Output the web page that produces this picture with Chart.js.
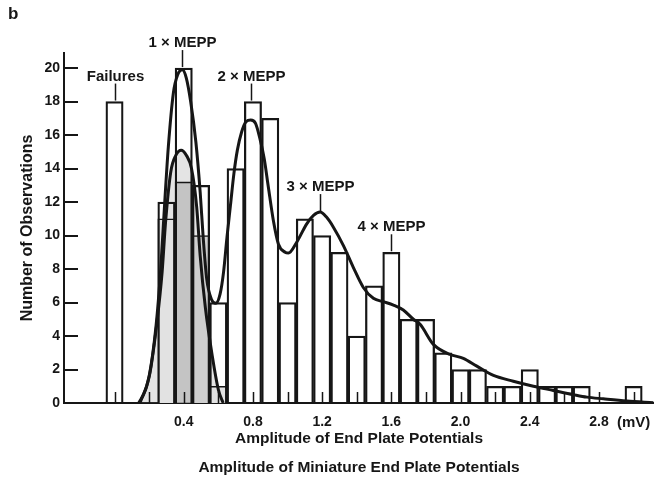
<!DOCTYPE html>
<html>
<head>
<meta charset="utf-8">
<title>Amplitude of End Plate Potentials</title>
<script src="https://cdn.jsdelivr.net/npm/chart.js@4.4.1/dist/chart.umd.min.js"></script>
<style>
  body { margin: 0; background: #fff; }
  #wrap { width: 654px; height: 480px; position: relative; }
</style>
</head>
<body>
<div id="wrap"><canvas id="chart"></canvas></div>
<script>
// Histogram of end plate potential amplitudes, 0.1 mV bins (bin centres in mV)
const binCenters = [0.0, 0.1, 0.2, 0.3, 0.4, 0.5, 0.6, 0.7, 0.8, 0.9, 1.0,
                    1.1, 1.2, 1.3, 1.4, 1.5, 1.6, 1.7, 1.8, 1.9, 2.0,
                    2.1, 2.2, 2.3, 2.4, 2.5, 2.6, 2.7, 2.8, 2.9, 3.0];
const eppCounts = [18, 0, 0, 12, 20, 13, 6, 14, 18, 17, 6,
                   11, 10, 9, 4, 7, 9, 5, 5, 3, 2,
                   2, 1, 1, 2, 1, 1, 1, 0, 0, 1];

// Spontaneous miniature potentials (shaded bars, scaled)
const meppBins = [0.3, 0.4, 0.5, 0.6];
const meppCounts = [11, 13.2, 10, 1];

// Curve fitted to the MEPP amplitudes (shaded)
const meppCurveX = [0.14, 0.18, 0.205, 0.245, 0.275, 0.295, 0.325, 0.355, 0.385,
                    0.415, 0.445, 0.475, 0.495, 0.525, 0.565, 0.6, 0.628];
const meppCurveY = [0, 0.8, 1.8, 4.8, 7.8, 10.8, 13.8, 14.8, 15.1,
                    14.8, 14.0, 11.7, 8.8, 5.7, 2.8, 0.8, 0];

// Predicted distribution of end plate potentials
const eppCurveX = [0.147, 0.2, 0.24, 0.267, 0.292, 0.311, 0.34, 0.365, 0.392, 0.415,
                   0.44, 0.47, 0.495, 0.513, 0.533, 0.56, 0.585, 0.61, 0.63, 0.65,
                   0.67, 0.69, 0.71, 0.735, 0.76, 0.787, 0.815, 0.84, 0.865, 0.889,
                   0.918, 0.947, 0.986, 1.005, 1.053, 1.111, 1.15, 1.188, 1.225, 1.265,
                   1.323, 1.38, 1.438, 1.496, 1.554, 1.612, 1.669, 1.727, 1.766, 1.843,
                   1.939, 2.016, 2.094, 2.19, 2.305, 2.421, 2.536, 2.652, 2.73, 2.825,
                   2.961, 3.114];
const eppCurveY = [0, 1.6, 4.6, 8.0, 12.3, 15.3, 18.5, 19.6, 19.9, 19.4,
                   18.0, 15.6, 12.6, 9.8, 7.4, 6.2, 5.95, 6.5, 7.8, 9.9,
                   11.8, 13.7, 15.1, 16.2, 16.8, 16.9, 16.7, 15.8, 14.6, 12.9,
                   10.9, 9.5, 9.0, 8.95, 9.6, 10.7, 11.2, 11.4, 11.1, 10.5,
                   9.4, 8.1, 6.9, 6.25, 6.05, 5.85, 5.55, 5.0, 4.7, 3.5,
                   2.9, 2.67, 2.2, 1.65, 1.3, 1.0, 0.75, 0.5, 0.35, 0.25,
                   0.12, 0.02];

// Axis ticks
const xTickValues = [0, 0.2, 0.4, 0.6, 0.8, 1.0, 1.2, 1.4, 1.6, 1.8, 2.0, 2.2, 2.4, 2.6, 2.8, 3.0];
const xLabelValues = [0.4, 0.8, 1.2, 1.6, 2.0, 2.4, 2.8];
const yTickValues = [0, 2, 4, 6, 8, 10, 12, 14, 16, 18, 20];

// Callouts above the peaks
const calloutX = [0.0, 0.39, 0.79, 1.19, 1.6];
const calloutY = [18, 20, 18, 11.4, 9];
const calloutText = ['Failures', '1 \u00d7 MEPP', '2 \u00d7 MEPP', '3 \u00d7 MEPP', '4 \u00d7 MEPP'];

const xMin = -0.292;
const xMax = 3.118;

const ink = '#161616';
const FONT = "'Liberation Sans', Arial, sans-serif";
Chart.defaults.font.family = FONT;
Chart.defaults.color = ink;

function toPoints(xs, ys) {
    return xs.map((x, i) => ({ x: x, y: ys[i] }));
}

// Inward tick marks, callouts, unit and panel letter
const overlay = {
    id: 'overlay',
    afterDatasetsDraw(chart) {
        const { ctx, chartArea: area, scales: { x, y } } = chart;
        ctx.save();
        ctx.strokeStyle = ink;
        ctx.fillStyle = ink;

        ctx.lineWidth = 2;
        ctx.beginPath();
        yTickValues.forEach(v => {
            const py = Math.round(y.getPixelForValue(v));
            ctx.moveTo(area.left, py);
            ctx.lineTo(area.left + 14, py);
        });
        ctx.stroke();

        ctx.lineWidth = 1.5;
        ctx.beginPath();
        xTickValues.forEach(v => {
            const px = Math.round(x.getPixelForValue(v)) + 0.5;
            ctx.moveTo(px, area.bottom);
            ctx.lineTo(px, area.bottom - 11);
        });
        ctx.stroke();

        ctx.font = 'bold 15px ' + FONT;
        ctx.textAlign = 'center';
        ctx.textBaseline = 'middle';
        calloutText.forEach((t, i) => {
            const px = Math.round(x.getPixelForValue(calloutX[i])) + 0.5;
            const py = y.getPixelForValue(calloutY[i]);
            ctx.beginPath();
            ctx.moveTo(px, py - 1);
            ctx.lineTo(px, py - 18);
            ctx.stroke();
            ctx.fillText(t, px, py - 25);
        });

        ctx.textAlign = 'left';
        ctx.font = 'bold 15px ' + FONT;
        const lastLabel = xLabelValues[xLabelValues.length - 1];
        ctx.fillText('(mV)', x.getPixelForValue(lastLabel) + 18, area.bottom + 20);

        ctx.font = 'bold 17px ' + FONT;
        ctx.fillText('b', 8, 14);
        ctx.restore();
    }
};

new Chart(document.getElementById('chart'), {
    type: 'bar',
    data: {
        datasets: [{
            type: 'line',
            label: 'MEPP distribution',
            data: toPoints(meppCurveX, meppCurveY),
            borderColor: ink,
            borderWidth: 3,
            backgroundColor: 'rgba(120, 120, 120, 0.2)',
            fill: 'origin',
            pointRadius: 0,
            cubicInterpolationMode: 'monotone',
            order: 2
        }, {
            type: 'line',
            label: 'Predicted EPP distribution',
            data: toPoints(eppCurveX, eppCurveY),
            borderColor: ink,
            borderWidth: 3,
            fill: false,
            pointRadius: 0,
            cubicInterpolationMode: 'monotone',
            order: 1
        }, {
            type: 'bar',
            label: 'MEPP amplitudes',
            data: toPoints(meppBins, meppCounts),
            backgroundColor: ['#e2e2e2', '#c4c4c4', '#cecece', '#e2e2e2'],
            borderColor: ink,
            borderWidth: 1.6,
            grouped: false,
            barPercentage: 1,
            categoryPercentage: 1,
            order: 4
        }, {
            type: 'bar',
            label: 'EPP amplitudes',
            data: toPoints(binCenters, eppCounts),
            backgroundColor: 'rgba(0, 0, 0, 0)',
            borderColor: ink,
            borderWidth: 1.6,
            grouped: false,
            barPercentage: 1,
            categoryPercentage: 1,
            order: 3
        }]
    },
    options: {
        responsive: true,
        maintainAspectRatio: false,
        devicePixelRatio: 1,
        animation: false,
        layout: { padding: { top: 53, left: 0, right: 0, bottom: 0 } },
        plugins: {
            legend: { display: false },
            tooltip: { enabled: false },
            filler: { drawTime: 'beforeDatasetsDraw' }
        },
        scales: {
            x: {
                type: 'linear',
                position: 'bottom',
                min: xMin,
                max: xMax,
                offset: false,
                grid: { display: false, drawTicks: false },
                border: { display: true, color: ink, width: 2 },
                afterBuildTicks: s => { s.ticks = xTickValues.map(v => ({ value: v })); },
                ticks: {
                    autoSkip: false,
                    maxRotation: 0,
                    padding: 11,
                    font: { size: 14, weight: 'bold' },
                    callback: v => xLabelValues.includes(v) ? v.toFixed(1) : ''
                },
                title: {
                    display: true,
                    text: 'Amplitude of End Plate Potentials',
                    font: { size: 15.5, weight: 'bold' },
                    padding: { top: 0, bottom: 5 }
                },
                afterFit: s => { s.height = 50; }
            },
            x2: {
                type: 'linear',
                position: 'bottom',
                weight: 1,
                min: xMin,
                max: xMax,
                offset: false,
                grid: { display: false, drawTicks: false },
                border: { display: false },
                ticks: { display: false },
                title: {
                    display: true,
                    text: 'Amplitude of Miniature End Plate Potentials',
                    font: { size: 15.5, weight: 'bold' },
                    padding: { top: 0, bottom: 3 }
                },
                afterFit: s => { s.height = 27; }
            },
            y: {
                type: 'linear',
                min: 0,
                max: 20.9,
                grid: { display: false, drawTicks: false },
                border: { display: true, color: ink, width: 2 },
                afterBuildTicks: s => { s.ticks = yTickValues.map(v => ({ value: v })); },
                ticks: { padding: 4, font: { size: 14, weight: 'bold' } },
                title: {
                    display: true,
                    text: 'Number of Observations',
                    font: { size: 16, weight: 'bold' },
                    padding: { top: 18, bottom: 0 }
                },
                afterFit: s => { s.width = 64; }
            }
        }
    },
    plugins: [overlay]
});
</script>
</body>
</html>
